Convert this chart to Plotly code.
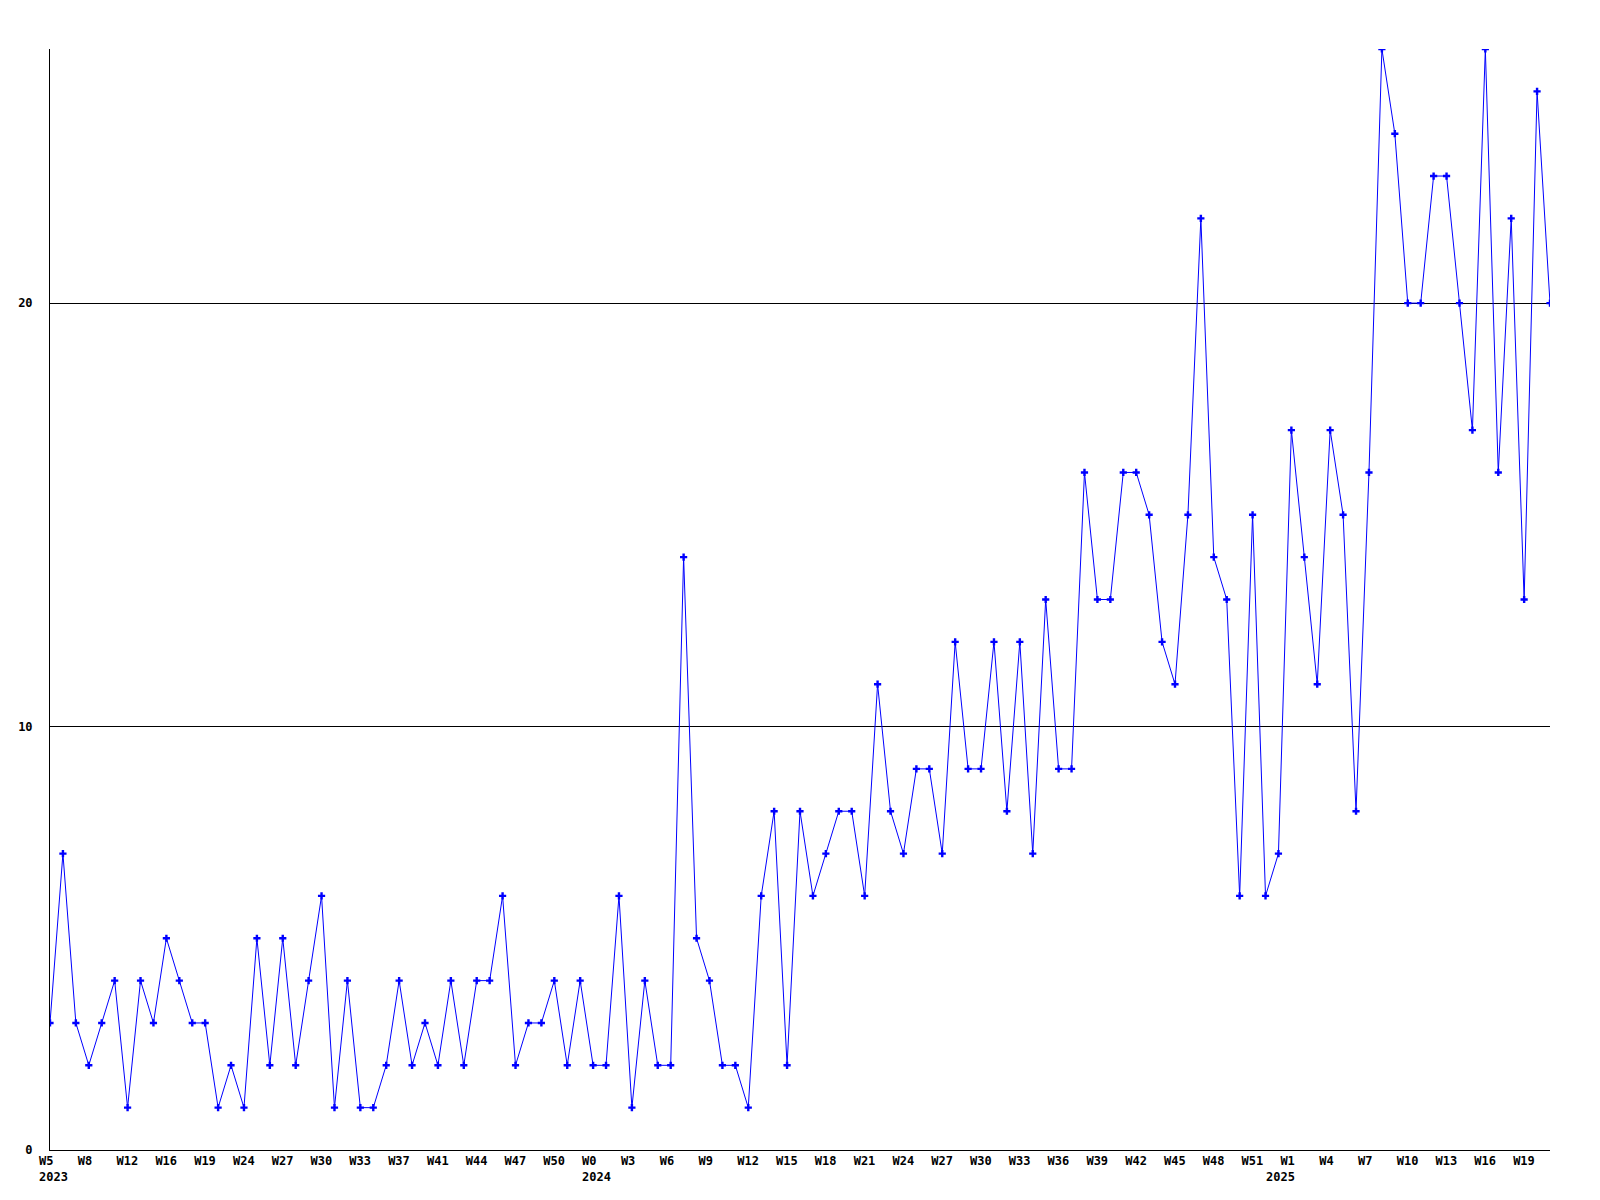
import plotly.graph_objects as go

# Weekly counts, one value per plotted week (117 points)
values = [
    3, 7, 3, 2, 3, 4, 1, 4, 3, 5, 4, 3, 3, 1, 2, 1, 5, 2, 5, 2,
    4, 6, 1, 4, 1, 1, 2, 4, 2, 3, 2, 4, 2, 4, 4, 6, 2, 3, 3, 4,
    2, 4, 2, 2, 6, 1, 4, 2, 2, 14, 5, 4, 2, 2, 1, 6, 8, 2, 8, 6,
    7, 8, 8, 6, 11, 8, 7, 9, 9, 7, 12, 9, 9, 12, 8, 12, 7, 13, 9, 9,
    16, 13, 13, 16, 16, 15, 12, 11, 15, 22, 14, 13, 6, 15, 6, 7, 17, 14, 11, 17,
    15, 8, 16, 26, 24, 20, 20, 23, 23, 20, 17, 26, 16, 22, 13, 25, 20,
]

# Tick labels shown every third week
tick_labels = [
    "W5", "W8", "W12", "W16", "W19", "W24", "W27", "W30", "W33", "W37",
    "W41", "W44", "W47", "W50", "W0", "W3", "W6", "W9", "W12", "W15",
    "W18", "W21", "W24", "W27", "W30", "W33", "W36", "W39", "W42", "W45",
    "W48", "W51", "W1", "W4", "W7", "W10", "W13", "W16", "W19",
]
tick_step = 3

# Year labels and the tick label they sit under
year_labels = ["2023", "2024", "2025"]
year_tick_index = [0, 14, 32]
year_shift = [-12, -12, -26]

y_ticks = [0, 10, 20]
y_max = 26

x = list(range(len(values)))
tickvals = [i * tick_step for i in range(len(tick_labels))]

FONT = dict(family="DejaVu Sans Mono", size=12, color="black", weight="bold")

fig = go.Figure()
fig.add_trace(go.Scatter(
    x=x, y=values, mode="lines+markers",
    line=dict(color="#0000ff", width=1),
    marker=dict(symbol="cross", size=6, color="#0000ff", line=dict(width=0)),
    showlegend=False, hoverinfo="skip",
))

for lab, ti, sh in zip(year_labels, year_tick_index, year_shift):
    fig.add_annotation(
        x=tickvals[ti], xref="x", y=0, yref="paper",
        text=lab, showarrow=False, xanchor="left", yanchor="middle",
        xshift=sh, yshift=-27, font=FONT, borderpad=0,
    )

fig.update_layout(
    width=1584, height=1184,
    margin=dict(l=42, r=42, t=41, b=42, autoexpand=False),
    paper_bgcolor="white", plot_bgcolor="white",
    font=FONT,
)
fig.update_xaxes(
    range=[0, len(values) - 1], tickmode="array",
    tickvals=tickvals, ticktext=tick_labels,
    showgrid=False, zeroline=False, automargin=False,
    showline=True, linecolor="black", linewidth=1,
    ticks="outside", ticklen=2, tickcolor="rgba(0,0,0,0)",
    ticklabelposition="outside right", ticklabelshift=-12,
    tickfont=FONT,
)
fig.update_yaxes(
    range=[0, y_max], tickmode="array", tickvals=y_ticks,
    showgrid=True, gridcolor="black", gridwidth=1,
    zeroline=False, showline=True, linecolor="black", linewidth=1,
    automargin=False,
    ticks="outside", ticklen=14, tickcolor="rgba(0,0,0,0)",
    tickfont=FONT,
)

fig.write_html("out.html")
